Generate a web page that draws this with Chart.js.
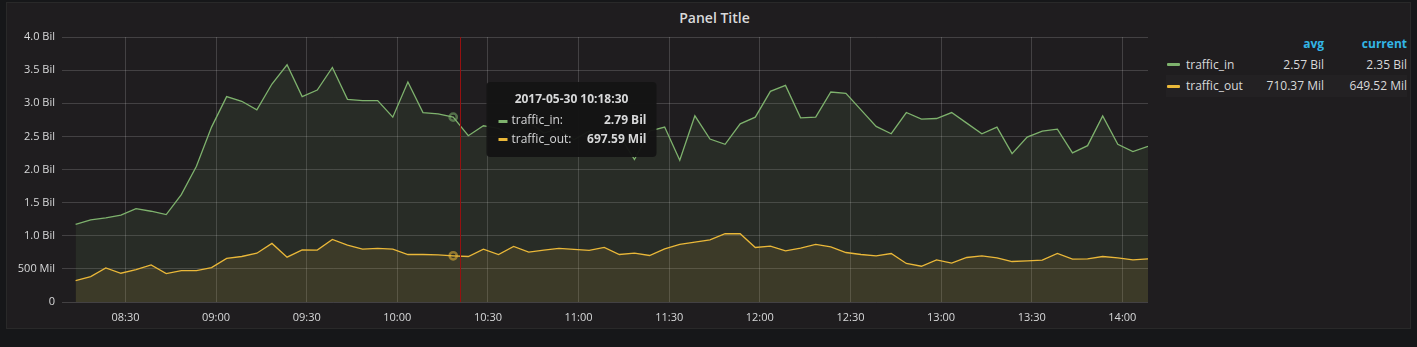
<!DOCTYPE html>
<html>
<head>
<meta charset="utf-8">
<script src="https://cdn.jsdelivr.net/npm/chart.js@4.4.0/dist/chart.umd.min.js"></script>
<style>
html,body{margin:0;padding:0;background:#161719;width:1417px;height:347px;overflow:hidden;font-family:'Open Sans',sans-serif;}
#panel{position:absolute;left:6px;top:2px;width:1403px;height:325px;background:#1f1d1f;border:1px solid #292929;}
#title{position:absolute;left:12px;top:4px;width:1405px;text-align:center;font-size:14px;font-weight:600;color:#d8d9da;line-height:28px;}
#wrap{position:absolute;left:0;top:0;width:1160px;height:347px;}
.lg{position:absolute;font-size:12px;color:#d8d9da;white-space:nowrap;}
.hd{color:#33b5e5;font-weight:700;}
.r{text-align:right;}
.sw{position:absolute;width:13px;height:3px;border-radius:1px;}
</style>
</head>
<body>
<div id="panel"></div>
<div id="title">Panel Title</div>
<div id="wrap"><canvas id="c" width="1160" height="347"></canvas></div>
<div id="legend"></div>
<script>
// ---- data ----
const seriesNames = ["traffic_in", "traffic_out"];
const seriesColors = ["#7eb26d", "#eab839"];
const times = [
 "08:13:30","08:18:30","08:23:30","08:28:30","08:33:30","08:38:30","08:43:30","08:48:30","08:53:30","08:58:30",
 "09:03:30","09:08:30","09:13:30","09:18:30","09:23:30","09:28:30","09:33:30","09:38:30","09:43:30","09:48:30","09:53:30","09:58:30",
 "10:03:30","10:08:30","10:13:30","10:18:30","10:23:30","10:28:30","10:33:30","10:38:30","10:43:30","10:48:30","10:53:30","10:58:30",
 "11:03:30","11:08:30","11:13:30","11:18:30","11:23:30","11:28:30","11:33:30","11:38:30","11:43:30","11:48:30","11:53:30","11:58:30",
 "12:03:30","12:08:30","12:13:30","12:18:30","12:23:30","12:28:30","12:33:30","12:38:30","12:43:30","12:48:30","12:53:30","12:58:30",
 "13:03:30","13:08:30","13:13:30","13:18:30","13:23:30","13:28:30","13:33:30","13:38:30","13:43:30","13:48:30","13:53:30","13:58:30",
 "14:03:30","14:08:30"
];
// values in billions
const trafficIn = [
 1.17,1.24,1.27,1.31,1.41,1.37,1.32,1.62,2.05,2.64,
 3.10,3.03,2.90,3.29,3.58,3.10,3.20,3.54,3.06,3.04,
 3.04,2.79,3.32,2.86,2.84,2.79,2.51,2.66,2.62,2.50,
 2.72,2.55,2.62,2.45,2.58,2.40,2.52,2.15,2.58,2.64,
 2.14,2.81,2.46,2.38,2.69,2.79,3.18,3.27,2.78,2.79,
 3.17,3.15,2.90,2.65,2.54,2.86,2.76,2.77,2.86,2.70,
 2.54,2.64,2.24,2.49,2.58,2.61,2.25,2.36,2.81,2.38,
 2.27,2.35
];
const trafficOut = [
 0.323,0.384,0.515,0.434,0.490,0.561,0.429,0.475,0.475,0.520,
 0.657,0.687,0.737,0.884,0.677,0.788,0.783,0.944,0.859,0.798,
 0.808,0.798,0.717,0.717,0.712,0.69759,0.687,0.798,0.717,0.838,
 0.753,0.783,0.808,0.793,0.778,0.823,0.717,0.737,0.702,0.803,
 0.869,0.904,0.939,1.030,1.030,0.823,0.843,0.773,0.813,0.869,
 0.833,0.747,0.717,0.697,0.732,0.581,0.540,0.636,0.586,0.672,
 0.697,0.667,0.611,0.621,0.631,0.732,0.646,0.652,0.687,0.667,
 0.636,0.64952
];
const timeRange = ["08:09:00", "14:08:30"];
const xTickLabels = ["08:30","09:00","09:30","10:00","10:30","11:00","11:30","12:00","12:30","13:00","13:30","14:00"];
const yTickValues = [0,0.5,1,1.5,2,2.5,3,3.5,4];
const yTickLabels = ["0","500 Mil","1.0 Bil","1.5 Bil","2.0 Bil","2.5 Bil","3.0 Bil","3.5 Bil","4.0 Bil"];
const legendAvg = ["2.57 Bil","710.37 Mil"];
const legendCurrent = ["2.35 Bil","649.52 Mil"];
const tooltipDate = "2017-05-30";
const hoverIndex = 25;
const crosshairTime = "10:20:40";

// ---- helpers ----
function toMin(t){const p=t.split(':').map(Number);return p[0]*60+p[1]+(p[2]||0)/60;}
function fmt(v){return v<1?(v*1000).toFixed(2)+" Mil":v.toFixed(2)+" Bil";}
function rgba(hex,a){const n=parseInt(hex.slice(1),16);return `rgba(${n>>16&255},${n>>8&255},${n&255},${a})`;}
const allValues=[trafficIn,trafficOut];
const FONT="'Open Sans', sans-serif";
const TXT="#d8d9da";
const GRID="rgba(255,255,255,0.16)";

const overlay={
 id:'overlay',
 afterDatasetsDraw(chart){
  const {ctx,chartArea:a,scales:{x,y}}=chart;
  ctx.save();
  const cx=Math.round(x.getPixelForValue(toMin(crosshairTime)))+0.5;
  ctx.strokeStyle='rgb(150,16,16)';ctx.lineWidth=1;
  ctx.beginPath();ctx.moveTo(cx,a.top);ctx.lineTo(cx,a.bottom);ctx.stroke();
  const hx=x.getPixelForValue(toMin(times[hoverIndex]));
  allValues.forEach((vals,i)=>{
   const hy=y.getPixelForValue(vals[hoverIndex]);
   ctx.strokeStyle=rgba(seriesColors[i],0.55);ctx.lineWidth=2.5;
   ctx.beginPath();ctx.arc(hx,hy,3.6,0,Math.PI*2);ctx.stroke();
  });
  // tooltip
  const bx=cx+26,by=a.top+45,bw=170,bh=75,r=4;
  ctx.fillStyle='rgba(20,20,20,0.96)';
  ctx.beginPath();
  ctx.moveTo(bx+r,by);ctx.lineTo(bx+bw-r,by);ctx.quadraticCurveTo(bx+bw,by,bx+bw,by+r);
  ctx.lineTo(bx+bw,by+bh-r);ctx.quadraticCurveTo(bx+bw,by+bh,bx+bw-r,by+bh);
  ctx.lineTo(bx+r,by+bh);ctx.quadraticCurveTo(bx,by+bh,bx,by+bh-r);
  ctx.lineTo(bx,by+r);ctx.quadraticCurveTo(bx,by,bx+r,by);ctx.fill();
  ctx.textBaseline='middle';
  ctx.fillStyle=TXT;
  ctx.font="bold 12px "+FONT;ctx.textAlign='center';
  ctx.fillText(tooltipDate+" "+times[hoverIndex],bx+bw/2,by+18);
  allValues.forEach((vals,i)=>{
   const ry=by+38.5+i*18.6;
   ctx.fillStyle=seriesColors[i];
   ctx.fillRect(bx+12,Math.round(ry)-1,9,3);
   ctx.fillStyle=TXT;
   ctx.font="12px "+FONT;ctx.textAlign='left';
   ctx.fillText(seriesNames[i]+":",bx+25,ry);
   ctx.font="bold 12px "+FONT;ctx.textAlign='right';
   ctx.fillText(fmt(vals[hoverIndex]),bx+bw-10,ry);
  });
  ctx.restore();
 }
};

const datasets=allValues.map((vals,i)=>({
 label:seriesNames[i],
 data:vals.map((v,j)=>({x:toMin(times[j]),y:v})),
 borderColor:seriesColors[i],
 backgroundColor:rgba(seriesColors[i],0.1),
 borderWidth:1.3,
 pointRadius:0,
 tension:0,
 fill:'origin',
 order:2-i
}));

new Chart(document.getElementById('c'),{
 type:'line',
 data:{datasets},
 plugins:[overlay],
 options:{
  responsive:false,animation:false,devicePixelRatio:1,events:[],
  layout:{padding:{left:0,right:12,top:37,bottom:0}},
  plugins:{legend:{display:false},tooltip:{enabled:false}},
  scales:{
   x:{type:'linear',min:toMin(timeRange[0]),max:toMin(timeRange[1]),
    afterBuildTicks:s=>{s.ticks=xTickLabels.map(t=>({value:toMin(t)}));},
    afterFit:s=>{s.height=45;},
    ticks:{callback:(v,i)=>xTickLabels[i],color:TXT,font:{size:11,family:FONT},padding:9,maxRotation:0,autoSkip:false},
    grid:{color:GRID,drawTicks:false},border:{display:false}},
   y:{min:0,max:4,
    afterBuildTicks:s=>{s.ticks=yTickValues.map(v=>({value:v}));},
    afterFit:s=>{s.width=62;},
    ticks:{callback:(v,i)=>yTickLabels[i],color:TXT,font:{size:11,family:FONT},padding:7},
    grid:{color:GRID,drawTicks:false},border:{display:false}}
  }
 }
});

// ---- legend ----
const lg=document.getElementById('legend');
let html='';
html+=`<div class="lg hd r" style="right:93px;top:35px;line-height:18px;">avg</div>`;
html+=`<div class="lg hd r" style="right:10px;top:35px;line-height:18px;">current</div>`;
seriesNames.forEach((n,i)=>{
 const top=i===0?54:75, h=i===0?21:22;
 if(i===1) html+=`<div style="position:absolute;left:1166px;top:${top}px;width:241px;height:${h}px;background:#232123;"></div>`;
 html+=`<div class="sw" style="left:1167px;top:${top+Math.floor(h/2)-1}px;background:${seriesColors[i]};"></div>`;
 html+=`<div class="lg" style="left:1186px;top:${top}px;line-height:${h}px;">${n}</div>`;
 html+=`<div class="lg r" style="right:93px;top:${top}px;line-height:${h}px;">${legendAvg[i]}</div>`;
 html+=`<div class="lg r" style="right:10px;top:${top}px;line-height:${h}px;">${legendCurrent[i]}</div>`;
});
lg.innerHTML=html;
</script>
</body>
</html>
